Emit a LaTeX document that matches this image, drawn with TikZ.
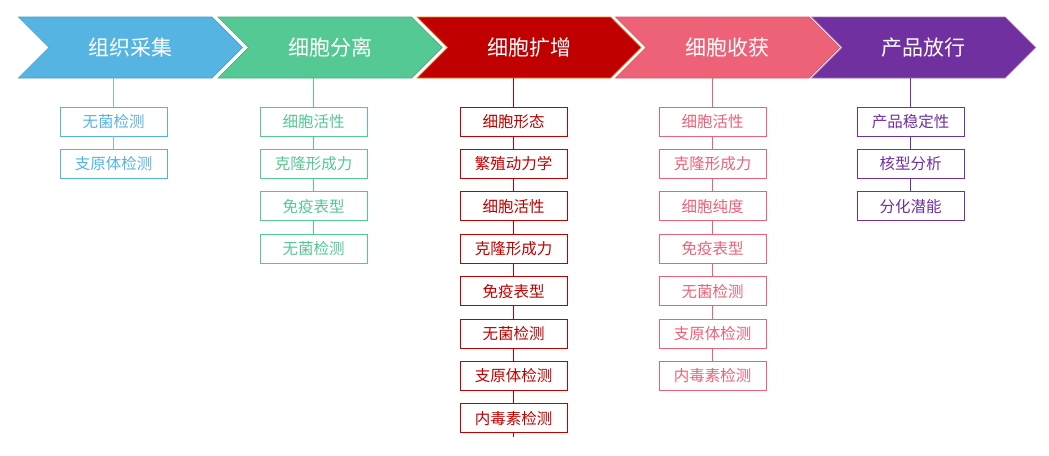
\documentclass[tikz,border=0pt]{standalone}
\usepackage{fontspec}
\newfontfamily\cjk{Noto Sans CJK SC}
\usetikzlibrary{shapes.symbols,positioning}
\definecolor{caiji}{HTML}{56B4E3}
\definecolor{caijiline}{HTML}{8DB4E2}
\definecolor{fenli}{HTML}{55C993}
\definecolor{kuozeng}{HTML}{C00000}
\definecolor{shouhuo}{HTML}{EE6277}
\definecolor{fangxing}{HTML}{7030A0}

\tikzset{
  stage/.style={signal, signal from=west, signal to=east, signal pointer angle=90,
    minimum width=224pt, minimum height=61pt, inner sep=0pt, text=white,
    line width=0.7pt, font=\cjk\fontsize{21}{21}\selectfont},
  testbox/.style={draw=#1, text=#1, fill=white, minimum width=107pt, minimum height=29pt,
    inner sep=0pt, line width=0.8pt, font=\cjk\fontsize{15.5}{15.5}\selectfont},
  link/.style={draw=#1, line width=0.8pt}
}

\begin{document}
\begin{tikzpicture}[x=1pt,y=-1pt]
\useasboundingbox (0,0) rectangle (1049,455);
% stages
\node[stage, fill=caiji, draw=caiji!85!black] (s1) at (130.5,47.5) {组织采集};
\node[stage, fill=fenli, draw=fenli!85!black] (s2) at (330,47.5) {细胞分离};
\node[stage, fill=kuozeng, draw=orange!60!brown] (s3) at (529,47.5) {细胞扩增};
\node[stage, fill=shouhuo, draw=shouhuo!90!black] (s4) at (727.5,47.5) {细胞收获};
\node[stage, fill=fangxing, draw=fangxing!60!pink] (s5) at (923.5,47.5) {产品放行};

% tests
\node[testbox=caiji] (b11) at (113.5,121.5) {无菌检测};
\node[testbox=caiji, below=12.6pt of b11] (b12) {支原体检测};

\node[testbox=fenli] (b21) at (313.5,121.5) {细胞活性};
\node[testbox=fenli, below=12.6pt of b21] (b22) {克隆形成力};
\node[testbox=fenli, below=12.6pt of b22] (b23) {免疫表型};
\node[testbox=fenli, below=12.6pt of b23] (b24) {无菌检测};

\node[testbox=kuozeng] (b31) at (513.5,121.5) {细胞形态};
\node[testbox=kuozeng, below=12.6pt of b31] (b32) {繁殖动力学};
\node[testbox=kuozeng, below=12.6pt of b32] (b33) {细胞活性};
\node[testbox=kuozeng, below=12.6pt of b33] (b34) {克隆形成力};
\node[testbox=kuozeng, below=12.6pt of b34] (b35) {免疫表型};
\node[testbox=kuozeng, below=12.6pt of b35] (b36) {无菌检测};
\node[testbox=kuozeng, below=12.6pt of b36] (b37) {支原体检测};
\node[testbox=kuozeng, below=12.6pt of b37] (b38) {内毒素检测};
\coordinate[below=4pt of b38] (t3);

\node[testbox=shouhuo] (b41) at (712.5,121.5) {细胞活性};
\node[testbox=shouhuo, below=12.6pt of b41] (b42) {克隆形成力};
\node[testbox=shouhuo, below=12.6pt of b42] (b43) {细胞纯度};
\node[testbox=shouhuo, below=12.6pt of b43] (b44) {免疫表型};
\node[testbox=shouhuo, below=12.6pt of b44] (b45) {无菌检测};
\node[testbox=shouhuo, below=12.6pt of b45] (b46) {支原体检测};
\node[testbox=shouhuo, below=12.6pt of b46] (b47) {内毒素检测};

\node[testbox=fangxing] (b51) at (910.5,121.5) {产品稳定性};
\node[testbox=fangxing, below=12.6pt of b51] (b52) {核型分析};
\node[testbox=fangxing, below=12.6pt of b52] (b53) {分化潜能};

% links
\draw[link=caijiline] (b11.north |- s1.south) -- (b11.north);
\draw[link=caijiline] (b11) -- (b12);
\draw[link=fenli] (b21.north |- s2.south) -- (b21.north);
\foreach \a/\b in {1/2,2/3,3/4} \draw[link=fenli] (b2\a) -- (b2\b);
\draw[link=kuozeng] (b31.north |- s3.south) -- (b31.north);
\foreach \a/\b in {1/2,2/3,3/4,4/5,5/6,6/7,7/8} \draw[link=kuozeng] (b3\a) -- (b3\b);
\draw[link=kuozeng] (b38) -- (t3);
\draw[link=shouhuo] (b41.north |- s4.south) -- (b41.north);
\foreach \a/\b in {1/2,2/3,3/4,4/5,5/6,6/7} \draw[link=shouhuo] (b4\a) -- (b4\b);
\draw[link=fangxing] (b51.north |- s5.south) -- (b51.north);
\foreach \a/\b in {1/2,2/3} \draw[link=fangxing] (b5\a) -- (b5\b);
\end{tikzpicture}
\end{document}
